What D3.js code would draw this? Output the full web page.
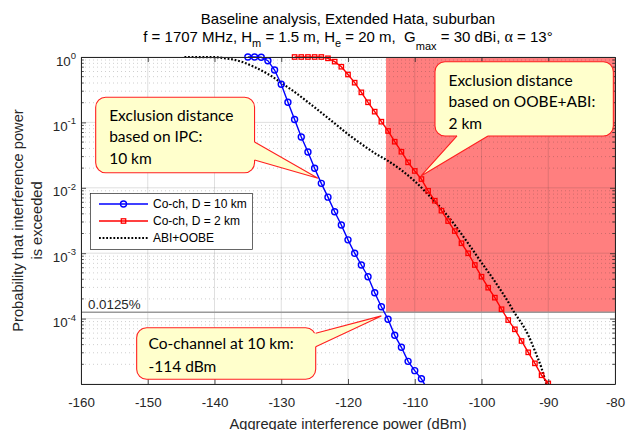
<!DOCTYPE html>
<html><head><meta charset="utf-8">
<script src="https://cdn.jsdelivr.net/npm/d3@7"></script>
<style>body{margin:0;background:#fff} svg{display:block}</style>
</head><body><svg id="c" width="628" height="430"></svg>
<script>
// ---------------- data ----------------
const xTicks = [-160,-150,-140,-130,-120,-110,-100,-90,-80];
const yTicks = [1e-5,1e-4,1e-3,1e-2,1e-1,1];
const yTickExp = ["","-4","-3","-2","-1","0"];

const blueX = [-135,-134,-133,-132,-131,-130,-129,-128,-127,-126,-125,-124,-123,-122,-121,-120,-119,-118,-117,-116,-115,-114,-113,-112,-111,-110,-109,-108];
const blueP = [1,1,0.99,0.878,0.633,0.383,0.203,0.111,0.0598,0.0353,0.0199,0.0117,0.0072,0.0043,0.0027,0.0016,0.00100,0.00066,0.000437,0.000249,0.000152,0.0000976,0.0000555,0.0000364,0.0000222,0.000016,0.000012,0.000008];

const redX = [-128,-127,-126,-125,-124,-123,-122,-121,-120,-119,-118,-117,-116,-115,-114,-113,-112,-111,-110,-109,-108,-107,-106,-105,-104,-103,-102,-101,-100,-99,-98,-97,-96,-95,-94,-93,-92,-91,-90,-89];
const redP = [1,1,1,1,1,0.955,0.85,0.71,0.54,0.405,0.288,0.203,0.146,0.1025,0.074,0.0507,0.0356,0.0245,0.0181,0.0136,0.0090,0.00635,0.00447,0.0031,0.00218,0.00142,0.000997,0.00066,0.000437,0.000297,0.000209,0.000139,0.000095,0.0000686,0.0000455,0.0000305,0.0000207,0.0000136,0.0000102,0.000007];

const abiX = [-144.5,-142,-140,-138,-136,-134,-132,-130,-128,-126,-124,-122,-120,-118,-116,-114,-112,-110,-108,-106,-104,-102,-100,-98,-96,-95,-94,-93,-92,-91,-90.3];
const abiP = [1,0.998,0.993,0.944,0.85,0.70,0.55,0.403,0.292,0.204,0.141,0.0966,0.066,0.0468,0.0339,0.0258,0.0186,0.0126,0.0079,0.0048,0.0027,0.00141,0.00072,0.00037,0.00018,0.00012,0.000085,0.000056,0.000032,0.0000174,0.00001];

const legendLabels = ["Co-ch, D = 10 km","Co-ch, D = 2 km","ABI+OOBE"];
const thresholdP = 1.25e-4;
const thresholdLabel = "0.0125%";
const shadeX0 = -114.3;

const titleLine1 = "Baseline analysis, Extended Hata, suburban";
const xLabel = "Aggregate interference power (dBm)";
const yLabel = ["Probability that interference power","is exceeded"];

const callout1Lines = ["Exclusion distance","based on IPC:","10 km"];
const callout2Lines = ["Exclusion distance","based on OOBE+ABI:","2 km"];
const callout3Lines = ["Co-channel at 10 km:","-114 dBm"];

// ---------------- layout ----------------
const svg = d3.select("#c");
const L=81, R=615, T=57, B=384;
const x = d3.scaleLinear().domain([-160,-80]).range([L,R]);
const y = d3.scaleLog().domain([1e-5,1]).range([B,T]);
const axisCol = "#262626";
const FONT = "'Liberation Sans', Arial, Helvetica, sans-serif";
const CFONT = "Lato, 'Open Sans', sans-serif";

// shading
svg.append("rect")
  .attr("x", x(shadeX0)).attr("y", T)
  .attr("width", x(-80)-x(shadeX0)).attr("height", y(thresholdP)-T)
  .attr("fill", "#ff7f7f");

// grid
const grid = svg.append("g");
const minorVals = [];
for (let e=-5; e<0; e++) for (let k=2;k<=9;k++) minorVals.push(k*Math.pow(10,e));
grid.selectAll(".mg").data(minorVals).enter().append("line")
  .attr("x1",L).attr("x2",R).attr("y1",d=>y(d)).attr("y2",d=>y(d))
  .attr("stroke","rgba(38,38,38,0.28)").attr("stroke-width",0.8).attr("stroke-dasharray","1,3");
grid.selectAll(".gy").data(yTicks).enter().append("line")
  .attr("x1",L).attr("x2",R).attr("y1",d=>y(d)).attr("y2",d=>y(d))
  .attr("stroke","rgba(38,38,38,0.15)").attr("stroke-width",1);
grid.selectAll(".gx").data(xTicks).enter().append("line")
  .attr("y1",T).attr("y2",B).attr("x1",d=>x(d)).attr("x2",d=>x(d))
  .attr("stroke","rgba(38,38,38,0.15)").attr("stroke-width",1);

// threshold line
svg.append("line").attr("x1",L).attr("x2",R)
  .attr("y1",y(thresholdP)).attr("y2",y(thresholdP))
  .attr("stroke","#9a9a9a").attr("stroke-width",1.3);
svg.append("text").attr("x",L+7).attr("y",y(thresholdP)-3.5)
  .attr("font-family",FONT).attr("font-size",13.33).attr("fill",axisCol).text(thresholdLabel);

// clip
svg.append("defs").append("clipPath").attr("id","clip")
  .append("rect").attr("x",L).attr("y",T-8).attr("width",R-L).attr("height",B-T+8);
const plot = svg.append("g").attr("clip-path","url(#clip)");

const blue = blueX.map((d,i)=>[d,blueP[i]]);
const red = redX.map((d,i)=>[d,redP[i]]);
const abi = abiX.map((d,i)=>[d,abiP[i]]);
const line = d3.line().x(d=>x(d[0])).y(d=>y(d[1]));
const smooth = d3.line().x(d=>x(d[0])).y(d=>y(d[1])).curve(d3.curveMonotoneX);

plot.append("path").attr("d",smooth(abi)).attr("fill","none")
  .attr("stroke","#000").attr("stroke-width",2.2).attr("stroke-dasharray","1.8,1.8");
plot.append("path").attr("d",line(blue)).attr("fill","none")
  .attr("stroke","#0000ff").attr("stroke-width",1.4);
plot.selectAll(".bc").data(blue).enter().append("circle")
  .attr("cx",d=>x(d[0])).attr("cy",d=>y(d[1])).attr("r",3)
  .attr("fill","none").attr("stroke","#0000ff").attr("stroke-width",1.4);
plot.append("path").attr("d",line(red)).attr("fill","none")
  .attr("stroke","#ff0000").attr("stroke-width",1.4);
plot.selectAll(".rs").data(red).enter().append("rect")
  .attr("x",d=>x(d[0])-2.2).attr("y",d=>y(d[1])-2.2).attr("width",4.4).attr("height",4.4)
  .attr("fill","none").attr("stroke","#ff0000").attr("stroke-width",1.3);

// axes
function styleAxis(g){
  g.select(".domain").attr("stroke",axisCol).attr("stroke-width",1);
  g.selectAll(".tick line").attr("stroke",axisCol).attr("stroke-width",0.8);
  g.selectAll("text").attr("fill",axisCol).attr("font-family",FONT).attr("font-size",13.33);
}
const gx = svg.append("g").attr("transform",`translate(0,${B})`)
  .call(d3.axisBottom(x).tickValues(xTicks).tickSizeInner(-5).tickSizeOuter(0).tickPadding(15).tickFormat(d=>d));
styleAxis(gx);
gx.selectAll("text").attr("y",14).attr("dy","0.71em");
const gxt = svg.append("g").attr("transform",`translate(0,${T})`)
  .call(d3.axisTop(x).tickValues(xTicks).tickSizeInner(-5).tickSizeOuter(0).tickFormat(""));
styleAxis(gxt);
const gy = svg.append("g").attr("transform",`translate(${L},0)`)
  .call(d3.axisLeft(y).tickValues(yTicks).tickSizeInner(-5).tickSizeOuter(0).tickPadding(6).tickFormat(""));
styleAxis(gy);
gy.selectAll(".tick text").each(function(d,i){
  const ex = yTickExp[yTicks.indexOf(d)];
  const t = d3.select(this).text(null).attr("dy",null).attr("y",8).attr("x",-5);
  if (!ex) return;
  t.append("tspan").text("10");
  t.append("tspan").attr("dy",-6.5).attr("font-size",9.5).text(ex);
});
const gyr = svg.append("g").attr("transform",`translate(${R},0)`)
  .call(d3.axisRight(y).tickValues(yTicks).tickSizeInner(-5).tickSizeOuter(0).tickFormat(""));
styleAxis(gyr);
// minor ticks
[[L,1],[R,-1]].forEach(([x0,s])=>{
  svg.append("g").selectAll("line").data(minorVals).enter().append("line")
    .attr("x1",x0).attr("x2",x0+s*2.8).attr("y1",d=>y(d)).attr("y2",d=>y(d))
    .attr("stroke",axisCol).attr("stroke-width",0.8);
});

// labels
svg.append("text").attr("x",(L+R)/2).attr("y",428.5).attr("text-anchor","middle")
  .attr("font-family",FONT).attr("font-size",14.67).attr("fill",axisCol).text(xLabel);
yLabel.forEach((s,i)=>{
  svg.append("text").attr("transform",`translate(${23+i*19},${(T+B)/2}) rotate(-90)`)
    .attr("text-anchor","middle").attr("font-family",FONT).attr("font-size",14.67)
    .attr("fill",axisCol).text(s);
});

// title
svg.append("text").attr("x",(L+R)/2).attr("y",23.5).attr("text-anchor","middle")
  .attr("font-family",FONT).attr("font-size",15).attr("fill","#000").text(titleLine1);
const t2 = svg.append("text").attr("x",(L+R)/2).attr("y",42).attr("text-anchor","middle")
  .attr("font-family",FONT).attr("font-size",15).attr("fill","#000").style("white-space","pre");
const parts = [
  ["f = 1707 MHz, H",0],["m",1],[" = 1.5 m, H",0],["e",1],[" = 20 m,  G",0],["max",2],[" = 30 dBi, ",0],["\u03B1",3],[" = 13\u00B0",0]
];
let cur = 0;
parts.forEach(([s,k])=>{
  const target = k===1?5:(k===2?8:0);
  const ts = t2.append("tspan").attr("dy",target-cur).text(s);
  cur = target;
  if (k===1||k===2) ts.attr("font-size",11);
  if (k===3) ts.attr("font-family","'Liberation Serif', 'Times New Roman', serif").attr("font-size",16);
});

// legend
const lg = svg.append("g");
lg.append("rect").attr("x",90.5).attr("y",193.5).attr("width",162).attr("height",56)
  .attr("fill","#fff").attr("stroke",axisCol).attr("stroke-width",0.7);
const rows = [204,221,238];
legendLabels.forEach((lab,i)=>{
  const yy = rows[i];
  const ln = lg.append("line").attr("x1",99).attr("x2",148).attr("y1",yy).attr("y2",yy);
  if(i===0){ ln.attr("stroke","#0000ff").attr("stroke-width",1.4);
    lg.append("circle").attr("cx",123.5).attr("cy",yy).attr("r",3).attr("fill","none").attr("stroke","#0000ff").attr("stroke-width",1.4);}
  if(i===1){ ln.attr("stroke","#ff0000").attr("stroke-width",1.4);
    lg.append("rect").attr("x",121.3).attr("y",yy-2.2).attr("width",4.4).attr("height",4.4).attr("fill","none").attr("stroke","#ff0000").attr("stroke-width",1.3);}
  if(i===2){ ln.attr("stroke","#000").attr("stroke-width",2.2).attr("stroke-dasharray","1.8,1.8");}
  lg.append("text").attr("x",153).attr("y",yy).attr("dy","0.35em")
    .attr("font-family",FONT).attr("font-size",12).attr("fill","#000").text(lab);
});

// callouts (box & pointer given in data coordinates)
function callout(box, side, b1, b2, tip, lines, pad, first, step){
  const g = svg.append("g");
  const bx0=x(box[0]), bx1=x(box[1]), by0=y(box[2]), by1=y(box[3]);
  g.append("rect").attr("x",bx0).attr("y",by0).attr("width",bx1-bx0).attr("height",by1-by0)
    .attr("rx",10).attr("ry",10).attr("fill","#ffffcc").attr("stroke","#ff2020").attr("stroke-width",1.1);
  const P1=[x(b1[0]),y(b1[1])], P2=[x(b2[0]),y(b2[1])], TP=[x(tip[0]),y(tip[1])];
  if(side==="right"){P1[0]=bx1;P2[0]=bx1;} else {P1[1]=by1;P2[1]=by1;}
  const inw = side==="right"?[[P1[0]-3,P1[1]],[P2[0]-3,P2[1]]]:[[P1[0],P1[1]-3],[P2[0],P2[1]-3]];
  g.append("path").attr("d",d3.line()([inw[0],P1,TP,P2,inw[1]])).attr("fill","#ffffcc").attr("stroke","none");
  g.append("path").attr("d",d3.line()([P1,TP,P2])).attr("fill","none").attr("stroke","#ff2020").attr("stroke-width",1.1);
  lines.forEach((s,i)=>{
    g.append("text").attr("x",bx0+pad).attr("y",by0+first+i*step)
      .attr("font-family",CFONT).attr("font-size",15.5).attr("fill","#000").text(s);
  });
}
callout([-157.8,-134.0,0.242,0.0170],"right",[-134,0.050],[-134,0.0266],[-124.5,0.014],callout1Lines,13.5,23.5,21.5);
callout([-106.97,-80.25,0.848,0.062],"bottom",[-103.67,0.062],[-99.03,0.062],[-109.06,0.0152],callout2Lines,13.5,24,21.5);
callout([-151.66,-124.84,7.26e-5,1.18e-5],"right",[-124.84,5.96e-5],[-124.84,3.72e-5],[-115,1.1e-4],callout3Lines,11.8,21.8,22.3);
</script></body></html>
